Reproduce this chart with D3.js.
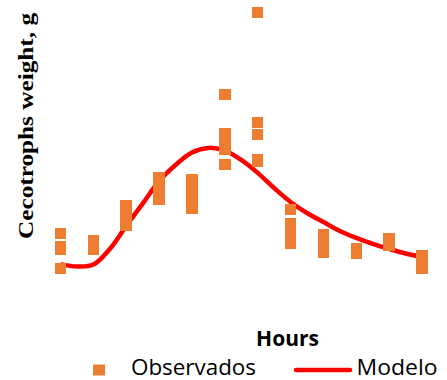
<!DOCTYPE html>
<html>
<head>
<meta charset="utf-8">
<script src="https://cdn.jsdelivr.net/npm/d3@7"></script>
<style>
  body { margin: 0; background: #fff; }
</style>
</head>
<body>
<div id="chart"></div>
<script>
var width = 447;
var height = 380;

// observed weights (g), several animals per sampling hour
var obsHours = [0, 2, 4, 6, 8, 10, 12, 14, 16, 18, 20, 22];
var obsValues = [
    [2.35, 1.81, 1.69, 0.90],
    [2.06, 1.69],
    [3.52, 3.13, 2.69],
    [4.69, 4.25, 3.77],
    [4.60, 4.17, 3.83, 3.40],
    [8.15, 6.52, 6.21, 5.85, 5.23],
    [11.56, 6.98, 6.48, 5.44, 5.35],
    [3.35, 2.77, 2.38, 1.94],
    [2.31, 1.94, 1.56],
    [1.73, 1.52],
    [2.15, 1.85],
    [1.44, 1.17, 0.90]
];

// fitted model, one value per hour
var modelHours = [0, 1, 2, 3, 4, 5, 6, 7, 8, 9, 10, 11, 12, 13, 14, 15, 16, 17, 18, 19, 20, 21, 22];
var modelValues = [1.08, 0.98, 1.06, 1.71, 2.67, 3.60, 4.54, 5.21, 5.73, 5.92, 5.81, 5.42,
    4.88, 4.25, 3.67, 3.21, 2.83, 2.46, 2.17, 1.92, 1.71, 1.52, 1.38];

var seriesNames = ["Observados", "Modelo"];
var xTitle = "Hours";
var yTitle = "Cecotrophs weight, g";

var orange = "#ED7D31";
var red = "#FF0000";

var svg = d3.select("#chart")
    .append("svg")
    .attr("width", width)
    .attr("height", height)

svg.append("rect")
    .attr("width", width)
    .attr("height", height)
    .attr("fill", "white")

var x = d3.scaleLinear().domain([0, 22]).range([60.5, 422]);
var y = d3.scaleLinear().domain([0, 12]).range([290, 2]);

// model line
var model = modelHours.map(function(h, i) { return [h, modelValues[i]] });
var line = d3.line()
    .x(function(d) { return x(d[0]) })
    .y(function(d) { return y(d[1]) })
    .curve(d3.curveCatmullRom);

svg.append("path")
    .datum(model)
    .attr("d", line)
    .attr("fill", "none")
    .attr("stroke", red)
    .attr("stroke-width", 4.5)
    .attr("stroke-linejoin", "round")

// observed points as square markers
var points = [];
obsHours.forEach(function(h, i) {
    obsValues[i].forEach(function(v) { points.push([h, v]) })
});

var m = 11.5;
svg.append("g")
    .attr("shape-rendering", "crispEdges")
    .selectAll("rect").data(points)
    .enter().append("rect")
    .attr("x", function(d) { return x(d[0]) - m / 2 })
    .attr("y", function(d) { return y(d[1]) - m / 2 })
    .attr("width", m)
    .attr("height", m)
    .attr("fill", orange)

// axis titles
svg.append("text")
    .attr("transform", "translate(33,126) rotate(-90)")
    .attr("text-anchor", "middle")
    .attr("font-family", "Liberation Serif")
    .attr("font-weight", "bold")
    .attr("font-size", 20)
    .attr("textLength", 226)
    .attr("lengthAdjust", "spacingAndGlyphs")
    .text(yTitle)

svg.append("text")
    .attr("x", 287.5)
    .attr("y", 346)
    .attr("text-anchor", "middle")
    .attr("font-family", "Open Sans")
    .attr("font-weight", "bold")
    .attr("font-size", 21)
    .text(xTitle)

// legend
var legend = svg.append("g");
legend.append("rect")
    .attr("x", 93)
    .attr("y", 364.5)
    .attr("width", 12)
    .attr("height", 11)
    .attr("fill", orange)
legend.append("text")
    .attr("x", 131)
    .attr("y", 375)
    .attr("font-family", "Open Sans")
    .attr("font-size", 21)
    .attr("textLength", 125)
    .attr("lengthAdjust", "spacingAndGlyphs")
    .text(seriesNames[0])
legend.append("line")
    .attr("x1", 296)
    .attr("x2", 350)
    .attr("y1", 370)
    .attr("y2", 370)
    .attr("stroke", red)
    .attr("stroke-width", 4.5)
    .attr("stroke-linecap", "round")
legend.append("text")
    .attr("x", 356.5)
    .attr("y", 375)
    .attr("font-family", "Open Sans")
    .attr("font-size", 21)
    .attr("textLength", 81)
    .attr("lengthAdjust", "spacingAndGlyphs")
    .text(seriesNames[1])
</script>
</body>
</html>
